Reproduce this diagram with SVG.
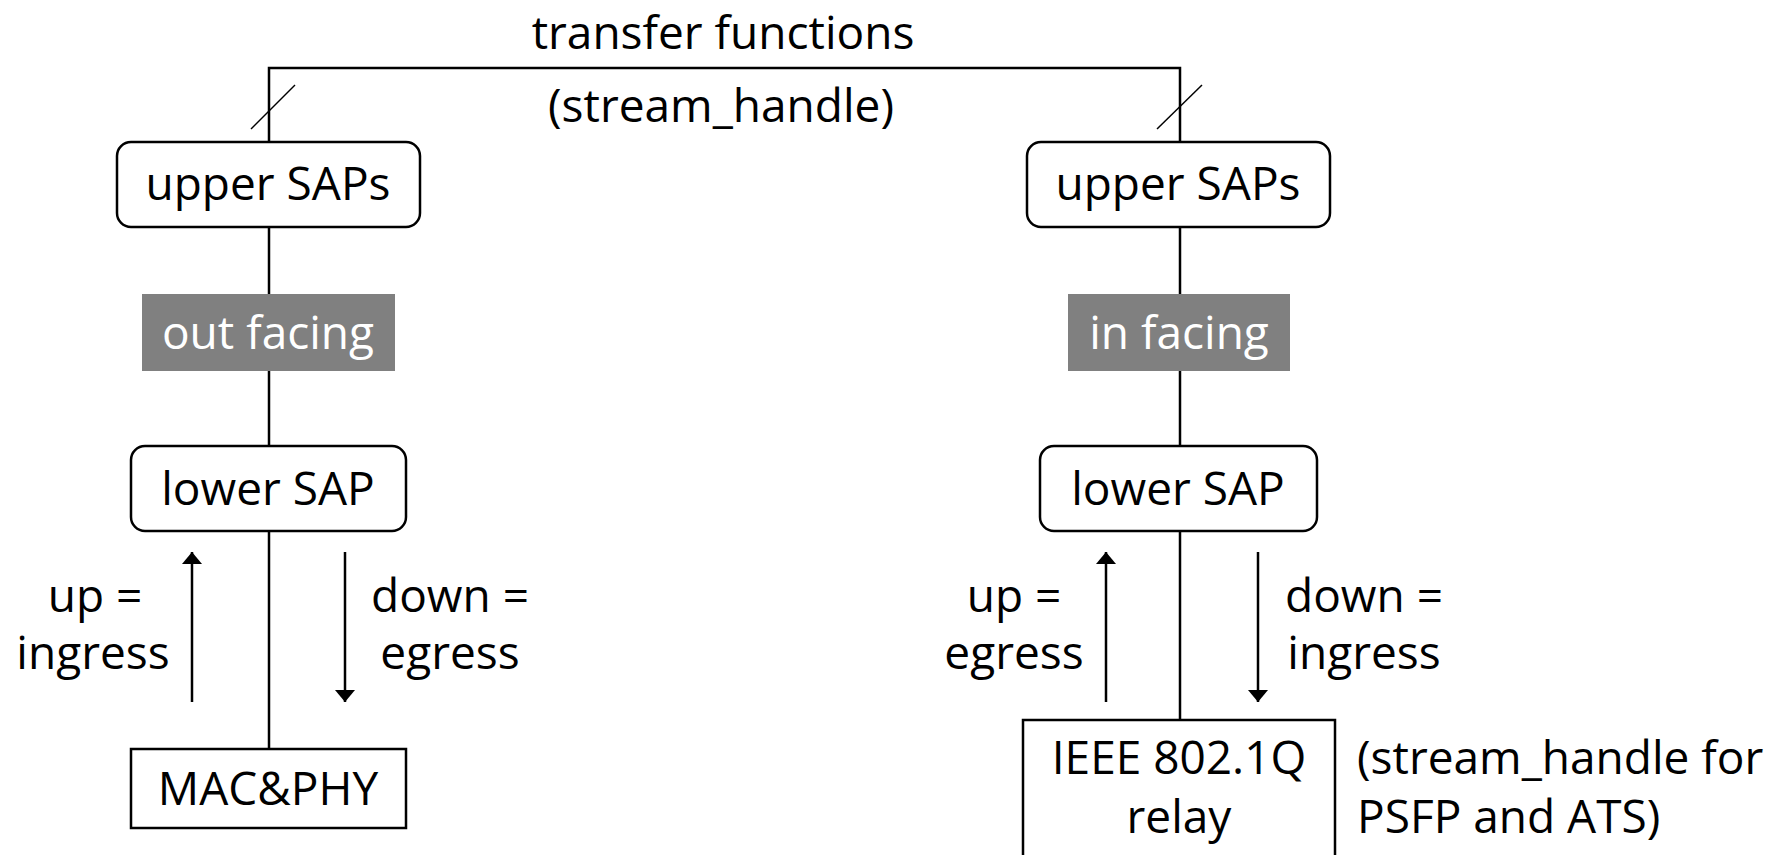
<svg xmlns="http://www.w3.org/2000/svg" width="1780" height="855" viewBox="0 0 1780 855">
<style>
  text { font-family: "Open Sans", "Noto Sans", "DejaVu Sans", sans-serif; font-size: 46px; fill: #000; }
  .c { text-anchor: middle; }
  .w { fill: #fff; }
  .box { fill: #fff; stroke: #000; stroke-width: 2.5; }
  .grey { fill: #808080; stroke: none; }
  .ln { stroke: #000; stroke-width: 2.5; fill: none; }
  .thin { stroke: #000; stroke-width: 1.5; fill: none; }
</style>
<defs>
  <marker id="ah" viewBox="0 0 12 20" refX="12" refY="10" markerWidth="12" markerHeight="20" markerUnits="userSpaceOnUse" orient="auto">
    <path d="M0,0 L12,10 L0,20 Z" fill="#000"/>
  </marker>
</defs>
<rect width="1780" height="855" fill="#fff"/>
<g id="connectors">
  <path class="ln" d="M269,142 V68 H1180 V142"/>
  <line class="thin" x1="251" y1="129" x2="295" y2="85"/>
  <line class="thin" x1="1157" y1="129" x2="1202" y2="85"/>
  <line class="ln" x1="269" y1="227" x2="269" y2="294"/>
  <line class="ln" x1="269" y1="371" x2="269" y2="446"/>
  <line class="ln" x1="269" y1="531" x2="269" y2="749"/>
  <line class="ln" x1="1180" y1="227" x2="1180" y2="294"/>
  <line class="ln" x1="1180" y1="371" x2="1180" y2="446"/>
  <line class="ln" x1="1180" y1="531" x2="1180" y2="720"/>
  <line class="ln" x1="192" y1="702" x2="192" y2="552" marker-end="url(#ah)"/>
  <line class="ln" x1="345" y1="552" x2="345" y2="702" marker-end="url(#ah)"/>
  <line class="ln" x1="1106" y1="702" x2="1106" y2="552" marker-end="url(#ah)"/>
  <line class="ln" x1="1258" y1="552" x2="1258" y2="702" marker-end="url(#ah)"/>
</g>
<g id="labels">
  <text class="c" x="723" y="49">transfer functions</text>
  <text class="c" x="721" y="122">(stream_handle)</text>
  <text class="c" x="95" y="612">up =</text>
  <text class="c" x="93" y="669">ingress</text>
  <text class="c" x="450" y="612">down =</text>
  <text class="c" x="450" y="669">egress</text>
  <text class="c" x="1014" y="612">up =</text>
  <text class="c" x="1014" y="669">egress</text>
  <text class="c" x="1364" y="612">down =</text>
  <text class="c" x="1364" y="669">ingress</text>
  <text x="1357" y="774">(stream_handle for</text>
  <text x="1357" y="833">PSFP and ATS)</text>
</g>
<g id="upper-left">
  <rect class="box" x="117" y="142" width="303" height="85" rx="14"/>
  <text class="c" x="268" y="200">upper SAPs</text>
</g>
<g id="upper-right">
  <rect class="box" x="1027" y="142" width="303" height="85" rx="14"/>
  <text class="c" x="1178" y="200">upper SAPs</text>
</g>
<g id="out-facing">
  <rect class="grey" x="142" y="294" width="253" height="77"/>
  <text class="c w" x="268" y="349">out facing</text>
</g>
<g id="in-facing">
  <rect class="grey" x="1068" y="294" width="222" height="77"/>
  <text class="c w" x="1179" y="349">in facing</text>
</g>
<g id="lower-left">
  <rect class="box" x="131" y="446" width="275" height="85" rx="14"/>
  <text class="c" x="268" y="505">lower SAP</text>
</g>
<g id="lower-right">
  <rect class="box" x="1040" y="446" width="277" height="85" rx="14"/>
  <text class="c" x="1178" y="505">lower SAP</text>
</g>
<g id="mac-phy">
  <rect class="box" x="131" y="749" width="275" height="79"/>
  <text class="c" x="268" y="805">MAC&amp;PHY</text>
</g>
<g id="relay">
  <rect class="box" x="1023" y="720" width="312" height="150"/>
  <text class="c" x="1179" y="774">IEEE 802.1Q</text>
  <text class="c" x="1179" y="833">relay</text>
</g>
</svg>
